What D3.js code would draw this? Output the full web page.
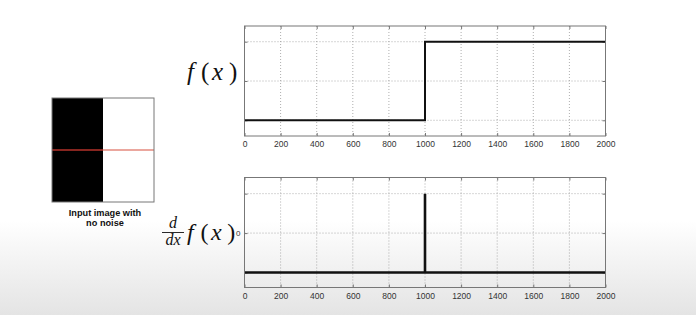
<!DOCTYPE html>
<html>
<head>
<meta charset="utf-8">
<script src="https://cdn.jsdelivr.net/npm/d3@7"></script>
<style>
  body { margin: 0; background: #fff; }
  svg { display: block; }
  .tick-label { font-family: "Liberation Sans", Arial, sans-serif; font-size: 8.5px; fill: #333; }
  .math { font-family: "Liberation Serif", "DejaVu Serif", serif; fill: #111; }
</style>
</head>
<body>
<svg id="chart" width="696" height="315"></svg>
<script>
// x axis ticks shared by both panels
const xTicks = [0, 200, 400, 600, 800, 1000, 1200, 1400, 1600, 1800, 2000];

// top panel: step signal f(x)
const stepX = [0, 1000, 1000, 2000];
const stepY = [0, 0, 1, 1];
const stepYTicks = [0, 0.5, 1];

// bottom panel: derivative, a single spike at x=1000
const derivX = [0, 1000, 1000, 1000, 2000];
const derivY = [-1, -1, 1, -1, -1];
const derivYTicks = [-1, 0, 1];
const derivYLabels = ["", "0", ""];

// input image: left column black, right column white, scanline in the middle
const imageCols = ["#000", "#fff"];
const captionLines = ["Input image with", "no noise"];

const svg = d3.select("#chart");

// soft grey fade at the bottom of the slide
const defs = svg.append("defs");
const grad = defs.append("linearGradient").attr("id", "fade").attr("x1", 0).attr("y1", 0).attr("x2", 0).attr("y2", 1);
grad.append("stop").attr("offset", "0").attr("stop-color", "#fff");
grad.append("stop").attr("offset", "0.7").attr("stop-color", "#fff");
grad.append("stop").attr("offset", "1").attr("stop-color", "#e4e4e4");
svg.append("rect").attr("width", 696).attr("height", 315).attr("fill", "url(#fade)");

// ---- input image ----
const img = { x0: 52, x1: 154, y0: 98, y1: 202 };
const colScale = d3.scaleBand().domain(d3.range(imageCols.length)).range([img.x0, img.x1]);
svg.append("g").selectAll("rect").data(imageCols).join("rect")
  .attr("x", (d, i) => colScale(i)).attr("y", img.y0)
  .attr("width", colScale.bandwidth()).attr("height", img.y1 - img.y0)
  .attr("fill", d => d);
const midY = (img.y0 + img.y1) / 2;
svg.append("line").attr("x1", img.x0).attr("x2", colScale(1)).attr("y1", midY).attr("y2", midY)
  .attr("stroke", "#b3322a").attr("stroke-width", 1.5);
svg.append("line").attr("x1", colScale(1)).attr("x2", img.x1).attr("y1", midY).attr("y2", midY)
  .attr("stroke", "#e58a7e").attr("stroke-width", 1.5);
svg.append("rect").attr("x", img.x0).attr("y", img.y0)
  .attr("width", img.x1 - img.x0).attr("height", img.y1 - img.y0)
  .attr("fill", "none").attr("stroke", "#777").attr("stroke-width", 1);
svg.append("g").selectAll("text").data(captionLines).join("text")
  .attr("x", 105).attr("y", (d, i) => 216 + i * 9.5)
  .attr("text-anchor", "middle")
  .style("font-family", "Liberation Sans, Arial, sans-serif")
  .style("font-size", "9.2px").style("font-weight", "bold").attr("fill", "#111")
  .text(d => d);

// ---- panel helper ----
function drawPanel(top, bottom, yDomain, yTicks, yLabels, xs, ys, lineWidth) {
  const left = 244.5, right = 605.5;
  const x = d3.scaleLinear().domain([0, 2000]).range([left, right]);
  const y = d3.scaleLinear().domain(yDomain).range([bottom, top]);
  const g = svg.append("g");

  // grid (dotted)
  g.append("g").selectAll("line").data(xTicks.slice(1, -1)).join("line")
    .attr("x1", d => x(d)).attr("x2", d => x(d)).attr("y1", top).attr("y2", bottom)
    .attr("stroke", "#999").attr("stroke-width", 0.8).attr("stroke-dasharray", "1,2");
  g.append("g").selectAll("line").data(yTicks).join("line")
    .attr("x1", left).attr("x2", right).attr("y1", d => y(d)).attr("y2", d => y(d))
    .attr("stroke", "#999").attr("stroke-width", 0.8).attr("stroke-dasharray", "1,2");

  // axes with inward ticks on all four sides
  const tl = 3;
  g.append("g").attr("transform", `translate(0,${bottom})`)
    .call(d3.axisBottom(x).tickValues(xTicks).tickSize(-tl).tickFormat(d3.format("d")).tickPadding(5))
    .call(a => a.select(".domain").remove())
    .call(a => a.selectAll("line").attr("stroke", "#777"))
    .call(a => a.selectAll("text").attr("class", "tick-label").attr("fill", null));
  g.append("g").attr("transform", `translate(0,${top})`)
    .call(d3.axisTop(x).tickValues(xTicks).tickSize(-tl).tickFormat(""))
    .call(a => a.select(".domain").remove())
    .call(a => a.selectAll("line").attr("stroke", "#777"));
  g.append("g").attr("transform", `translate(${left},0)`)
    .call(d3.axisLeft(y).tickValues(yTicks).tickSize(-tl).tickPadding(4).tickFormat((d, i) => yLabels[i]))
    .call(a => a.select(".domain").remove())
    .call(a => a.selectAll("line").attr("stroke", "#777"))
    .call(a => a.selectAll("text").attr("class", "tick-label").attr("fill", null).style("font-size", "8px"));
  g.append("g").attr("transform", `translate(${right},0)`)
    .call(d3.axisRight(y).tickValues(yTicks).tickSize(-tl).tickFormat(""))
    .call(a => a.select(".domain").remove())
    .call(a => a.selectAll("line").attr("stroke", "#777"));

  // the signal
  const line = d3.line().x(d => x(d[0])).y(d => y(d[1]));
  g.append("path").datum(d3.zip(xs, ys)).attr("d", line)
    .attr("fill", "none").attr("stroke", "#111").attr("stroke-width", lineWidth);

  // frame
  g.append("rect").attr("x", left).attr("y", top).attr("width", right - left).attr("height", bottom - top)
    .attr("fill", "none").attr("stroke", "#777").attr("stroke-width", 1);
  return g;
}

drawPanel(26, 136, [-0.2, 1.2], stepYTicks, ["", "", ""], stepX, stepY, 2);
drawPanel(177.5, 287.5, [-1.38, 1.41], derivYTicks, derivYLabels, derivX, derivY, 2.6);

// ---- math labels: f(x) typeset glyph by glyph, LaTeX-like spacing ----
function fOfX(x0, baseline, size) {
  const t = svg.append("text").attr("class", "math").attr("y", baseline).style("font-size", size + "px");
  const k = size / 25;
  const parts = [["f", 0, true], ["(", 14, false], ["x", 25, true], [")", 42, false]];
  parts.forEach(([s, dx, it]) => {
    t.append("tspan").attr("x", x0 + dx * k).style("font-style", it ? "italic" : "normal").text(s);
  });
}
fOfX(187, 80, 25);
fOfX(187, 240, 24);

const dd = svg.append("g");
dd.append("text").attr("class", "math").attr("x", 173).attr("y", 228).attr("text-anchor", "middle")
  .style("font-size", "16px").style("font-style", "italic").text("d");
dd.append("line").attr("x1", 162).attr("x2", 184).attr("y1", 232.5).attr("y2", 232.5)
  .attr("stroke", "#111").attr("stroke-width", 0.9);
dd.append("text").attr("class", "math").attr("x", 173).attr("y", 245).attr("text-anchor", "middle")
  .style("font-size", "16px").style("font-style", "italic").text("dx");
</script>
</body>
</html>
